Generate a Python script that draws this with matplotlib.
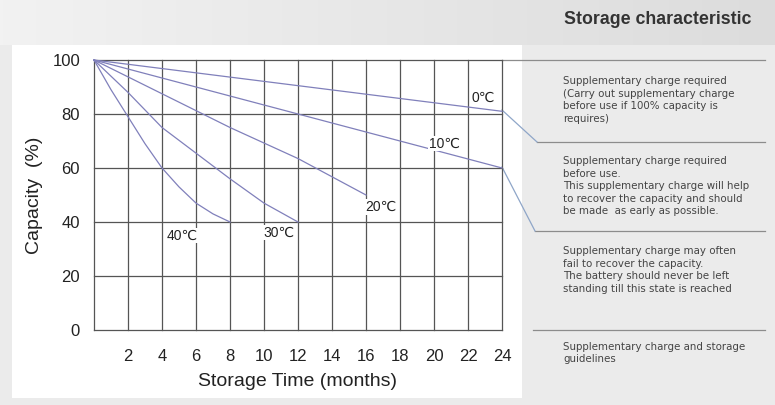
import numpy as np
import matplotlib
matplotlib.use('Agg')
import matplotlib.pyplot as plt
from matplotlib.lines import Line2D

plt.rcParams['font.family'] = ['Liberation Sans', 'DejaVu Sans']

# capacity (%) vs storage time (months) per temperature
months_40 = [0, 1, 2, 3, 4, 5, 6, 7, 8]
cap_40 = [100, 89, 79, 69, 60, 53, 47, 43, 40]
months_30 = [0, 2, 4, 6, 8, 10, 12]
cap_30 = [100, 88, 75, 65.5, 56, 47, 40]
months_20 = [0, 4, 8, 12, 16]
cap_20 = [100, 87.5, 75, 63.5, 50]
months_10 = [0, 24]
cap_10 = [100, 60]
months_0 = [0, 24]
cap_0 = [100, 81]

curve_labels = ['0℃', '10℃', '20℃', '30℃', '40℃']
label_pos = [(22.9, 86), (20.6, 69), (16.9, 45.5), (10.9, 36), (5.2, 35)]

x_ticks = list(range(2, 25, 2))
y_ticks = [0, 20, 40, 60, 80, 100]

notes = [
    "Supplementary charge required\n(Carry out supplementary charge\nbefore use if 100% capacity is\nrequires)",
    "Supplementary charge required\nbefore use.\nThis supplementary charge will help\nto recover the capacity and should\nbe made  as early as possible.",
    "Supplementary charge may often\nfail to recover the capacity.\nThe battery should never be left\nstanding till this state is reached",
    "Supplementary charge and storage\nguidelines",
]
note_y = [82, 162, 252, 347]

W, H = 775, 405
fig = plt.figure(figsize=(W / 100, H / 100), dpi=100)
fig.patch.set_facecolor('#ebebeb')

# header gradient
grad = np.linspace(0, 1, 256).reshape(1, -1)
hax = fig.add_axes([0, 1 - 45 / H, 1, 45 / H], zorder=0)
hax.imshow(grad, aspect='auto', cmap=matplotlib.colors.LinearSegmentedColormap.from_list(
    'hdr', ['#f2f2f2', '#dcdcdc']), extent=[0, 1, 0, 1])
hax.axis('off')

# white panel behind chart
pax = fig.add_axes([12 / W, 1 - 398 / H, 510 / W, 353 / H], zorder=0)
pax.set_facecolor('white')
pax.set_xticks([])
pax.set_yticks([])
for s in pax.spines.values():
    s.set_visible(False)

fig.text(751 / W, 1 - 20 / H, 'Storage characteristic', ha='right', va='center',
         fontsize=12.8, fontweight='bold', color='#333333')

ax = fig.add_axes([94 / W, 1 - 330 / H, 408 / W, 270 / H], zorder=2)
ax.set_facecolor('none')
ax.set_xlim(0, 24)
ax.set_ylim(0, 100)
for s in ax.spines.values():
    s.set_visible(False)

grid_c = '#555555'
for x in [0] + x_ticks:
    ax.axvline(x, color=grid_c, lw=0.9, zorder=1, clip_on=False)
for y in y_ticks:
    ax.axhline(y, color=grid_c, lw=0.9, zorder=1, clip_on=False)

curve_c = '#8080bb'
for mx, cy in [(months_0, cap_0), (months_10, cap_10), (months_20, cap_20),
               (months_30, cap_30), (months_40, cap_40)]:
    ax.plot(mx, cy, color=curve_c, lw=0.9, zorder=3, clip_on=False)

for lab, (lx, ly) in zip(curve_labels, label_pos):
    ax.text(lx, ly, lab, ha='center', va='center', fontsize=10, color='#222222',
            zorder=4, bbox=dict(facecolor='white', edgecolor='none', pad=0.5))

ax.set_xticks(x_ticks)
ax.set_yticks(y_ticks)
ax.tick_params(length=0, labelsize=12, colors='#222222')
ax.tick_params(axis='x', pad=14)
ax.tick_params(axis='y', pad=10)
ax.set_xlabel('Storage Time (months)', fontsize=14, color='#222222', labelpad=6)
ax.set_ylabel('Capacity  (%)', fontsize=14, color='#222222', labelpad=7)

# guide lines on the right side (pixel coordinates)
def px_line(xs, ys, color='#8c8c8c', lw=0.9):
    fig.add_artist(Line2D([x / W for x in xs], [1 - y / H for y in ys],
                          transform=fig.transFigure, color=color, lw=lw))

px_line([502, 765], [60, 60])
px_line([537, 765], [142, 142])
px_line([535, 765], [231, 231])
px_line([533, 765], [330, 330])
px_line([502, 537], [110, 142], color='#8fa6c8')
px_line([502, 535], [167, 231], color='#8fa6c8')

for t, y in zip(notes, note_y):
    fig.text(563 / W, 1 - (y - 5.5) / H, t, ha='left', va='top', fontsize=7.4,
             color='#444444', linespacing=1.3, family=['DejaVu Sans'])

fig.savefig('out.png', dpi=100)
